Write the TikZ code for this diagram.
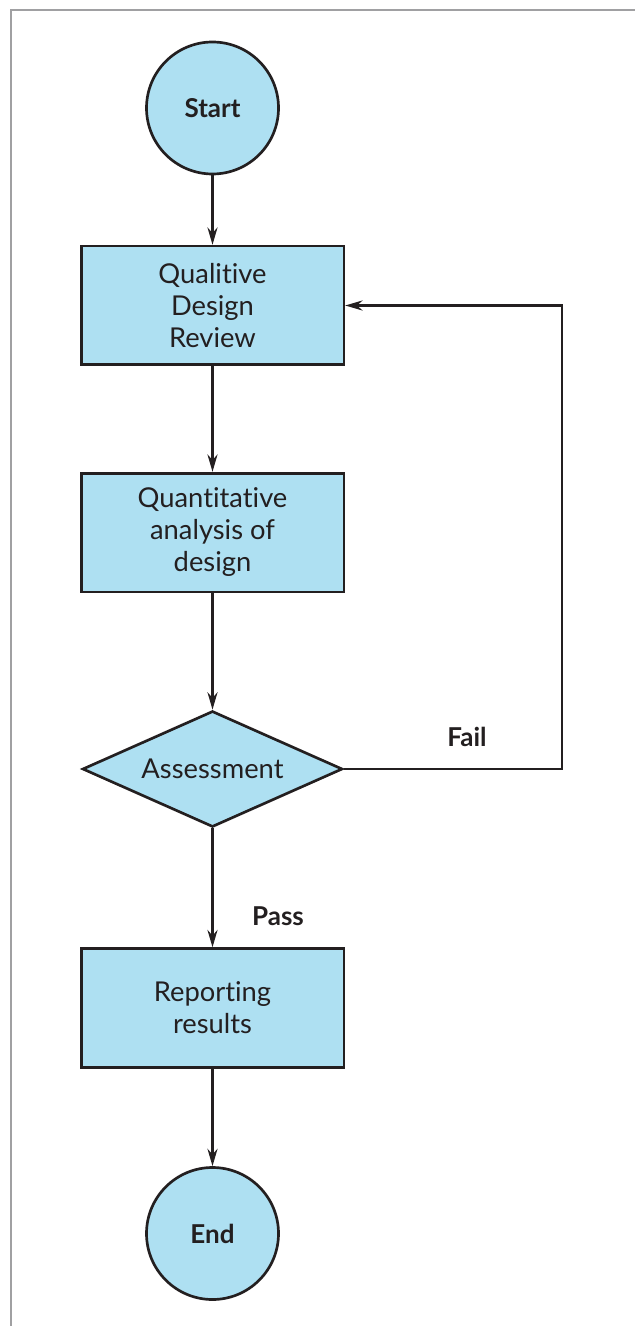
\documentclass[tikz,border=0pt]{standalone}
\usepackage{fontspec}
\setmainfont{Lato}[Ligatures={NoCommon}]
\usetikzlibrary{shapes.geometric,arrows.meta}
\definecolor{boxblue}{RGB}{174,224,242}
\definecolor{framegray}{RGB}{160,160,162}
\definecolor{ink}{RGB}{35,31,32}
\tikzset{
  base/.style={draw=ink, line width=2pt, fill=boxblue, text=ink, font=\fontsize{20.5}{24}\selectfont, align=center, inner sep=0pt},
  termnode/.style={base, circle, minimum size=99pt, font=\fontsize{19.5}{23.5}\selectfont\bfseries},
  procbox/.style={base, rectangle, minimum width=197pt, minimum height=89pt},
  decision/.style={base, diamond, minimum width=195pt, minimum height=87pt},
  flow/.style={draw=ink, line width=2pt, -{Stealth[length=13pt,width=7.5pt]}},
  lbl/.style={text=ink, font=\fontsize{19.5}{23.5}\selectfont\bfseries, inner sep=0pt}
}
\begin{document}
\begin{tikzpicture}[x=0.75pt,y=-0.75pt]
\useasboundingbox (0,0) rectangle (635,1326);
\draw[framegray, line width=2.2pt] (11,1326) -- (11,10) -- (635,10);
\node[termnode] (start) at (212.5,108) {Start};
\node[procbox] (qdr) at (212.5,305.5) {Qualitive\\Design\\Review};
\node[procbox] (qa) at (212.5,532.5) {Quantitative\\analysis of\\design};
\node[decision, label={[text=ink, font=\fontsize{20.5}{24}\selectfont]center:Assessment}] (as) at (212.5,769) {};
\node[procbox] (rep) at (212.5,1008) {Reporting\\results};
\node[termnode] (end) at (212.5,1233.5) {End};
\coordinate (c1) at (562,769);
\coordinate (c2) at (562,305.5);
\draw[flow] (start) -- (qdr);
\draw[flow] (qdr) -- (qa);
\draw[flow] (qa) -- (as);
\draw[flow] (as) -- (rep);
\draw[flow] (rep) -- (end);
\draw[flow] (as.east) -- (c1) -- (c2) -- (qdr.east);
\node[lbl] (fail) at (467,737) {Fail};
\node[lbl] (pass) at (278,916) {Pass};
\end{tikzpicture}
\end{document}
